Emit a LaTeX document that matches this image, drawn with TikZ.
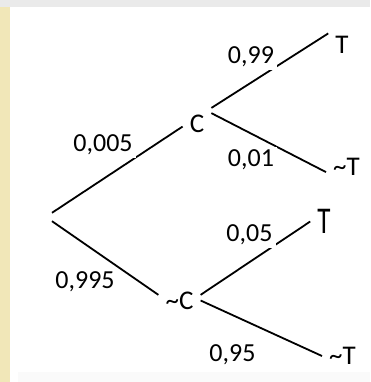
\documentclass[tikz,border=0pt]{standalone}
\usepackage{fontspec}
\setmainfont{Carlito}
\usepackage{graphicx}
\usetikzlibrary{positioning}
\definecolor{padyellow}{RGB}{241,231,184}
\definecolor{bargray}{RGB}{234,234,234}
\tikzset{
  event/.style={
    font=\fontsize{27}{27}\selectfont,
    inner xsep=7pt,
    inner ysep=7pt
  },
  prob/.style={
    font=\fontsize{26}{26}\selectfont,
    fill=white,
    inner sep=3pt
  },
  branch/.style={line width=1.8pt, draw=black}
}

\begin{document}
\begin{tikzpicture}[x=1pt,y=-1pt]
% page frame
\useasboundingbox (0,0) rectangle (370,382);
\fill[bargray] (0,0) rectangle (370,7);
\fill[padyellow] (0,7) rectangle (10,382);
\fill[black!2] (18,372) rectangle (370,382);

% tree nodes
\node[inner sep=0pt, minimum height=8pt, minimum width=0pt] (root) at (52,217) {};
\node[event] (C) at (197,124) {C};
\node[event] (nC) at (179.5,300.5) {\textasciitilde C};
\node[event] (T1) at (342,45) {T};
\node[event] (T2) at (346.5,167) {\textasciitilde T};
\node[event] (T3) at (324,221.5) {\scalebox{1}[1.4]{T}};
\node[event] (T4) at (342.5,356) {\textasciitilde T};

\draw[branch] (root.north) -- (C.190);
\draw[branch] (root.south) -- (nC.165);
\draw[branch] (C.north east) -- (T1.140);
\draw[branch] (C.37) -- (T2.194);
\draw[branch] (nC.15) -- (T3.west);
\draw[branch] (nC.east) -- (T4.west);

% probabilities
\node[prob] (pC) at (103,144.5) {0,005};
\node[prob] (pnC) at (85,281.5) {0,995};
\node[prob] (pT1) at (251,56.5) {0,99};
\node[prob] (pT2) at (251,160) {0,01};
\node[prob] (pT3) at (249.5,235) {0,05};
\node[prob] (pT4) at (232.5,355) {0,95};
\end{tikzpicture}
\end{document}
